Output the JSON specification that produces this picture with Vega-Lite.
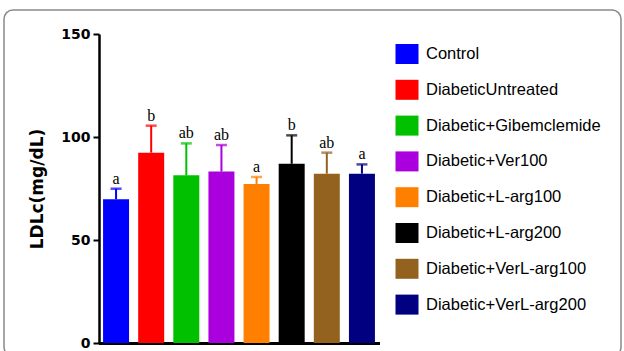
{
  "$schema": "https://vega.github.io/schema/vega-lite/v6.json",
  "width": 617,
  "height": 346,
  "autosize": {"type": "none"},
  "padding": {"left": 4, "top": 10, "right": 3, "bottom": -5},
  "background": "white",
  "config": {
    "view": {"stroke": "#8a8a8a", "strokeWidth": 1.5, "cornerRadius": 9},
    "font": "Liberation Sans"
  },
  "data": {
    "values": [
      {"group": "Control", "mean": 69.8, "upper": 74.9, "letter": "a"},
      {"group": "DiabeticUntreated", "mean": 92.4, "upper": 105.5, "letter": "b"},
      {"group": "Diabetic+Gibemclemide", "mean": 81.4, "upper": 96.9, "letter": "ab"},
      {"group": "Diabetic+Ver100", "mean": 83.2, "upper": 96.1, "letter": "ab"},
      {"group": "Diabetic+L-arg100", "mean": 77.2, "upper": 80.6, "letter": "a"},
      {"group": "Diabetic+L-arg200", "mean": 87.0, "upper": 100.8, "letter": "b"},
      {"group": "Diabetic+VerL-arg100", "mean": 82.2, "upper": 92.4, "letter": "ab"},
      {"group": "Diabetic+VerL-arg200", "mean": 82.2, "upper": 86.7, "letter": "a"}
    ]
  },
  "encoding": {
    "x": {
      "field": "group",
      "type": "nominal",
      "sort": null,
      "scale": {"range": [94.5, 375.5], "paddingInner": 0.26, "paddingOuter": 0.13},
      "axis": {"labels": false, "ticks": false, "title": null, "domainColor": "black", "domainWidth": 3, "offset": -13}
    },
    "color": {
      "field": "group",
      "type": "nominal",
      "sort": null,
      "scale": {
        "domain": ["Control", "DiabeticUntreated", "Diabetic+Gibemclemide", "Diabetic+Ver100", "Diabetic+L-arg100", "Diabetic+L-arg200", "Diabetic+VerL-arg100", "Diabetic+VerL-arg200"],
        "range": ["#0000FF", "#FF0000", "#00C000", "#AA00DD", "#FF8000", "#000000", "#94621F", "#000080"]
      },
      "legend": {
        "orient": "none",
        "legendX": 393,
        "legendY": 34,
        "title": null,
        "symbolType": "M-1.15,-1L1.15,-1L1.15,1L-1.15,1Z",
        "symbolSize": 400,
        "symbolStrokeWidth": 0,
        "symbolOpacity": 1,
        "rowPadding": 15.8,
        "labelOffset": 9,
        "labelFont": "Liberation Sans",
        "labelFontSize": 16.5,
        "labelColor": "black",
        "labelLimit": 300
      }
    }
  },
  "layer": [
    {
      "mark": {"type": "bar"},
      "encoding": {
        "y": {
          "field": "mean",
          "type": "quantitative",
          "scale": {"domain": [0, 150], "nice": false, "range": [333, 24]},
          "axis": {
            "offset": -95,
            "values": [0, 50, 100, 150],
            "grid": false,
            "title": "LDLc(mg/dL)",
            "titleFont": "DejaVu Sans",
            "titleFontSize": 17,
            "titleFontWeight": "bold",
            "titleColor": "black",
            "titlePadding": 14,
            "labelFont": "DejaVu Sans",
            "labelFontSize": 14,
            "labelFontWeight": "bold",
            "labelColor": "black",
            "labelPadding": 3,
            "tickSize": 6,
            "tickWidth": 2,
            "tickColor": "black",
            "domainColor": "black",
            "domainWidth": 2.5
          }
        }
      }
    },
    {
      "mark": {"type": "rule", "strokeWidth": 2},
      "encoding": {
        "y": {"field": "mean", "type": "quantitative"},
        "y2": {"field": "upper"}
      }
    },
    {
      "mark": {"type": "tick", "orient": "horizontal", "thickness": 2.5, "size": 11},
      "encoding": {
        "y": {"field": "upper", "type": "quantitative"}
      }
    },
    {
      "mark": {"type": "text", "baseline": "alphabetic", "dy": -5, "font": "Liberation Serif", "fontSize": 16},
      "encoding": {
        "y": {"field": "upper", "type": "quantitative"},
        "text": {"field": "letter"},
        "color": {"value": "black"}
      }
    }
  ]
}
